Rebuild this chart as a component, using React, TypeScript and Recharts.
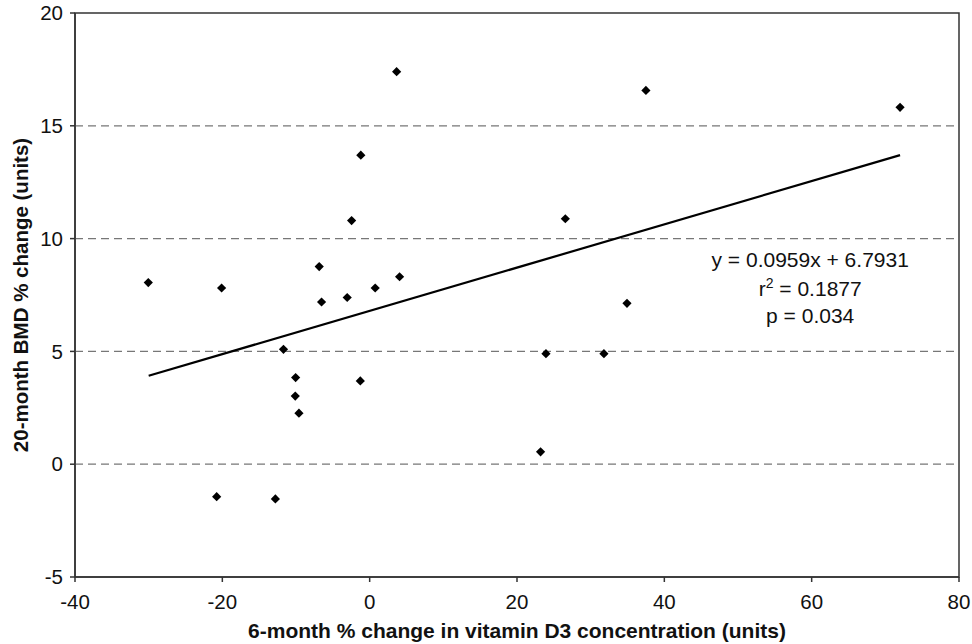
import React from 'react';
import { ScatterChart, Scatter, XAxis, YAxis, ReferenceLine, ReferenceArea, ReferenceDot, Label } from 'recharts';

const vitD3Change = [-30.05, -20.1, -6.85, -6.53, -3.05, 0.75, 4.06, -1.2, -2.45, -11.7, -10.05, -10.1, -9.6, -1.27, -20.77, -12.8, 23.2, 37.5, 26.56, 34.93, 23.93, 31.8, 3.66, 72.0];
const bmdChange = [8.05, 7.81, 8.76, 7.19, 7.39, 7.81, 8.31, 13.7, 10.8, 5.09, 3.84, 3.02, 2.26, 3.69, -1.44, -1.54, 0.55, 16.57, 10.88, 7.13, 4.9, 4.9, 17.4, 15.82];
const xTicks = [-40, -20, 0, 20, 40, 60, 80];
const yTicks = [-5, 0, 5, 10, 15, 20];
const gridValues = [0, 5, 10, 15];
const trendX = [-30, 72];
const trendY = [3.92, 13.70];
const statLines = ['y = 0.0959x + 6.7931', '0.1877', 'p = 0.034'];
const statAnchor = { x: 59.8, y: 9.05 };

const points = vitD3Change.map((x, i) => ({ x, y: bmdChange[i] }));

const FONT = 'Arial, "Liberation Sans", Helvetica, sans-serif';
const AXIS_COLOR = '#333';

const Diamond = (props: any) => {
  const { cx, cy } = props;
  const h = 4.6;
  return <path d={`M${cx},${cy - h}L${cx + h},${cy}L${cx},${cy + h}L${cx - h},${cy}Z`} fill="#000" />;
};

const StatsShape = (props: any) => {
  const { cx, cy } = props;
  return (
    <g fontFamily={FONT} fontSize={21} fill="#111" textAnchor="middle">
      <text x={cx} y={cy} dy="0.35em">{statLines[0]}</text>
      <text x={cx} y={cy + 29} dy="0.35em">
        <tspan>r</tspan>
        <tspan dy={-8} fontSize={14}>2</tspan>
        <tspan dy={8}>{' = ' + statLines[1]}</tspan>
      </text>
      <text x={cx} y={cy + 56} dy="0.35em">{statLines[2]}</text>
    </g>
  );
};

const YTitle = (props: any) => {
  const vb = props.viewBox || {};
  const x = 20;
  const y = (vb.y ?? 0) + (vb.height ?? 0) / 2;
  return (
    <text x={x} y={y} transform={`rotate(-90, ${x}, ${y})`} textAnchor="middle" dominantBaseline="central"
      fontFamily={FONT} fontWeight="bold" fontSize={20.5} fill="#111">
      20-month BMD % change (units)
    </text>
  );
};

const XTitle = (props: any) => {
  const vb = props.viewBox || {};
  const x = (vb.x ?? 0) + (vb.width ?? 0) / 2;
  const y = (vb.y ?? 0) + 53;
  return (
    <text x={x} y={y} textAnchor="middle" dominantBaseline="central"
      fontFamily={FONT} fontWeight="bold" fontSize={21} fill="#111">
      6-month % change in vitamin D3 concentration (units)
    </text>
  );
};

export default function App() {
  return (
    <div style={{ position: 'fixed', left: 0, top: 0, width: 972, height: 644, background: '#fff' }}>
      <ScatterChart width={972} height={644} margin={{ top: 13, right: 13, bottom: 0, left: 0 }}>
        <XAxis type="number" dataKey="x" domain={[-40, 80]} ticks={xTicks} interval={0}
          axisLine={{ stroke: AXIS_COLOR, strokeWidth: 1.5 }} tickLine={{ stroke: AXIS_COLOR, strokeWidth: 1.5 }}
          tickSize={5} tickMargin={12} height={67}
          tick={{ fontFamily: FONT, fontSize: 20.5, fill: '#111' }}>
          <Label content={<XTitle />} />
        </XAxis>
        <YAxis type="number" dataKey="y" domain={[-5, 20]} ticks={yTicks} interval={0}
          axisLine={{ stroke: AXIS_COLOR, strokeWidth: 1.5 }} tickLine={{ stroke: AXIS_COLOR, strokeWidth: 1.5 }}
          tickSize={5} tickMargin={7} width={75}
          tick={{ fontFamily: FONT, fontSize: 20.5, fill: '#111' }}>
          <Label content={<YTitle />} />
        </YAxis>
        {gridValues.map((v) => (
          <ReferenceLine key={v} y={v} stroke="#777" strokeWidth={1.3} strokeDasharray="8 5" />
        ))}
        <ReferenceArea x1={-40} x2={80} y1={-5} y2={20} fill="none" stroke={AXIS_COLOR} strokeWidth={1.5} fillOpacity={0} />
        <ReferenceLine segment={[{ x: trendX[0], y: trendY[0] }, { x: trendX[1], y: trendY[1] }]} stroke="#000" strokeWidth={2.2} />
        <Scatter data={points} shape={<Diamond />} isAnimationActive={false} />
        <ReferenceDot x={statAnchor.x} y={statAnchor.y} r={0} shape={<StatsShape />} />
      </ScatterChart>
    </div>
  );
}
